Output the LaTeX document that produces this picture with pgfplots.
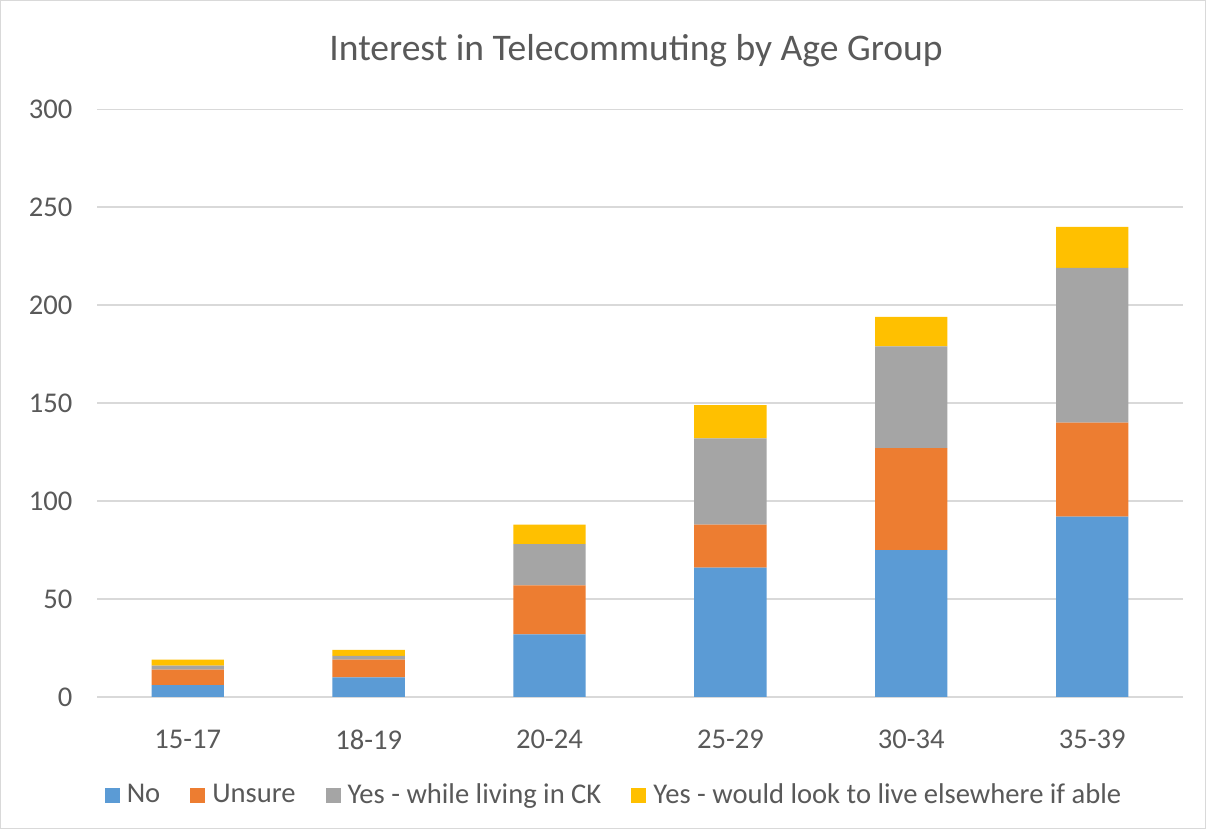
\documentclass[border=0pt]{standalone}
\usepackage{pgfplots}
\pgfplotsset{compat=1.18}
\usepackage{fontspec}
\setmainfont{Carlito}
\definecolor{cno}{HTML}{5B9BD5}
\definecolor{cun}{HTML}{ED7D31}
\definecolor{cck}{HTML}{A5A5A5}
\definecolor{cel}{HTML}{FFC000}
\definecolor{txt}{HTML}{595959}
\definecolor{grd}{HTML}{D9D9D9}
\begin{document}
\begin{tikzpicture}
% chart area frame (1px = 0.5pt)
\path[draw=grd, fill=white] (-48.5pt,-66pt) rectangle (554.5pt,348.5pt);
\begin{axis}[
    at={(0pt,0pt)}, anchor=south west,
    scale only axis, width=543pt, height=294pt,
    ybar stacked, bar width=0.4,
    xmin=-0.5, xmax=5.5, ymin=0, ymax=300,
    xtick=data, xticklabels={15-17,18-19,20-24,25-29,30-34,35-39},
    ytick={0,50,...,300},
    ymajorgrids, grid style={grd, line width=0.8pt},
    axis line style={draw=none}, major tick length=0pt,
    tick label style={font=\fontsize{14.3}{16}\selectfont, text=txt},
    /pgf/number format/assume math mode=true,
    xticklabel style={yshift=-13pt},
    yticklabel style={xshift=-9pt},
    legend columns=4,
    legend style={at={(0.477,-0.167)}, anchor=center, draw=none, fill=none,
        font=\fontsize{14.3}{16}\selectfont, text=txt,
        /tikz/every odd column/.append style={column sep=1.5pt},
        /tikz/every even column/.append style={column sep=13pt}},
    legend image code/.code={\fill[#1] (0pt,-3.75pt) rectangle (7.5pt,3.75pt);},
]
\addplot[fill=cno, draw=none] coordinates {(0,6) (1,10) (2,32) (3,66) (4,75) (5,92)};
\addplot[fill=cun, draw=none] coordinates {(0,8) (1,9) (2,25) (3,22) (4,52) (5,48)};
\addplot[fill=cck, draw=none] coordinates {(0,2) (1,2) (2,21) (3,44) (4,52) (5,79)};
\addplot[fill=cel, draw=none] coordinates {(0,3) (1,3) (2,10) (3,17) (4,15) (5,21)};
\legend{No,Unsure,Yes - while living in CK,Yes - would look to live elsewhere if able}
\end{axis}
\node[text=txt, font=\fontsize{18.8}{22}\selectfont] at (269.5pt,323.5pt) {Interest in Telecommuting by Age Group};
\end{tikzpicture}
\end{document}
